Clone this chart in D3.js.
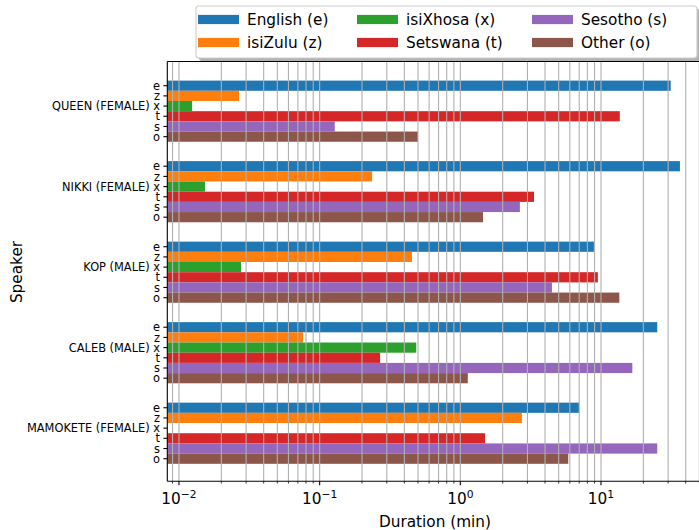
<!DOCTYPE html>
<html>
<head>
<meta charset="utf-8">
<script src="https://cdn.jsdelivr.net/npm/d3@7"></script>
<style>
  html, body { margin: 0; padding: 0; background: #fff; }
  svg { display: block; font-family: "DejaVu Sans", sans-serif; }
</style>
</head>
<body>
<div id="chart"></div>
<script>
// ---- Data ----
const speakers = ["QUEEN (FEMALE)", "NIKKI (FEMALE)", "KOP (MALE)", "CALEB (MALE)", "MAMOKETE (FEMALE)"];
const languages = ["English (e)", "isiZulu (z)", "isiXhosa (x)", "Setswana (t)", "Sesotho (s)", "Other (o)"];
const codes = ["e", "z", "x", "t", "s", "o"];
const colors = ["#1f77b4", "#ff7f0e", "#2ca02c", "#d62728", "#9467bd", "#8c564b"];
const english  = [31.3, 36.4, 8.9, 25.1, 7.0];
const isizulu  = [0.0267, 0.236, 0.453, 0.0762, 2.74];
const isixhosa = [0.0124, 0.0153, 0.0276, 0.486, 0];
const setswana = [13.6, 3.34, 9.5, 0.269, 1.50];
const sesotho  = [0.128, 2.65, 4.48, 16.7, 25.1];
const other    = [0.50, 1.45, 13.5, 1.13, 5.85];
const majorTicks = [0.01, 0.1, 1, 10];
const majorLabels = ["−2", "−1", "0", "1"];

const series = [english, isizulu, isixhosa, setswana, sesotho, other];

(function () {
// ---- Layout ----
const W = 699, H = 530;
const pLeft = 167.3, pTop = 61.5, pBottom = 481.3;
const groupStep = 7.9; // slots per speaker group

const svg = d3.select("#chart").append("svg").attr("width", W).attr("height", H);

const x = d3.scaleLog().domain([0.00826, 60]).range([pLeft, 179 + 140.67 * (Math.log10(60) + 2)]);
const y = d3.scaleLinear().domain([0, 4 * groupStep + 5]).range([85.7, 458.7]);
const slot = y(1) - y(0);

// rows
const rows = [];
speakers.forEach((sp, g) => {
  codes.forEach((c, i) => {
    rows.push({ sp, g, i, code: c, value: series[i][g], color: colors[i], pos: g * groupStep + i });
  });
});

// bars
svg.append("g").selectAll("rect").data(rows.filter(d => d.value > 0)).join("rect")
  .attr("x", pLeft)
  .attr("y", d => y(d.pos) - slot / 2)
  .attr("width", d => Math.min(W, x(d.value)) - pLeft)
  .attr("height", slot)
  .attr("fill", d => d.color);

// grid lines (drawn over bars)
const allTicks = x.ticks().filter(t => x(t) > pLeft + 0.5);
svg.append("g").selectAll("line").data(allTicks).join("line")
  .attr("x1", d => x(d)).attr("x2", d => x(d))
  .attr("y1", pTop).attr("y2", pBottom)
  .attr("stroke", "#b0b0b0").attr("stroke-width", 1.1);

// x tick marks
svg.append("g").selectAll("line").data(allTicks).join("line")
  .attr("x1", d => x(d)).attr("x2", d => x(d))
  .attr("y1", pBottom).attr("y2", d => pBottom + (majorTicks.includes(d) ? 3.9 : 2.2))
  .attr("stroke", "#000").attr("stroke-width", d => majorTicks.includes(d) ? 1.1 : 0.8);

// x tick labels
const xl = svg.append("g").selectAll("text").data(majorTicks).join("text")
  .attr("x", d => x(d)).attr("y", 504)
  .attr("text-anchor", "middle").attr("font-size", 15.3).attr("fill", "#000");
xl.append("tspan").text("10");
xl.append("tspan").attr("dy", -6).attr("font-size", 10.7).text((d, i) => majorLabels[i]);

// y tick marks and labels
svg.append("g").selectAll("line").data(rows).join("line")
  .attr("x1", pLeft - 3.9).attr("x2", pLeft)
  .attr("y1", d => y(d.pos)).attr("y2", d => y(d.pos))
  .attr("stroke", "#000").attr("stroke-width", 1.1);
svg.append("g").selectAll("text").data(rows).join("text")
  .attr("x", pLeft - 7.3).attr("y", d => y(d.pos)).attr("dy", "0.36em")
  .attr("text-anchor", "end").attr("font-size", 11.4).attr("fill", "#000")
  .text(d => d.code === "x" ? d.sp + " " + d.code : d.code);

// spines
svg.append("line").attr("x1", pLeft).attr("x2", pLeft).attr("y1", pTop).attr("y2", pBottom)
  .attr("stroke", "#000").attr("stroke-width", 1.1);
svg.append("line").attr("x1", pLeft).attr("x2", W).attr("y1", pTop).attr("y2", pTop)
  .attr("stroke", "#000").attr("stroke-width", 1.1);
svg.append("line").attr("x1", pLeft).attr("x2", W).attr("y1", pBottom).attr("y2", pBottom)
  .attr("stroke", "#000").attr("stroke-width", 1.1);

// axis labels
svg.append("text").attr("x", 435).attr("y", 527).attr("text-anchor", "middle")
  .attr("font-size", 15.3).text("Duration (min)");
svg.append("text").attr("transform", "translate(22,272) rotate(-90)").attr("text-anchor", "middle")
  .attr("font-size", 15.3).text("Speaker");

// legend
const lg = svg.append("g");
const lx = 196, ly = 6, lw = 501, lh = 52;
lg.append("rect").attr("x", lx + 3).attr("y", ly + 3).attr("width", lw).attr("height", lh)
  .attr("rx", 3).attr("fill", "#000").attr("opacity", 0.3);
lg.append("rect").attr("x", lx).attr("y", ly).attr("width", lw).attr("height", lh)
  .attr("rx", 3).attr("fill", "#fff").attr("stroke", "#cccccc").attr("stroke-width", 1.1);
const colX = [198, 357, 532];
languages.forEach((name, i) => {
  const col = Math.floor(i / 2), row = i % 2;
  const cy = 19.5 + row * 23;
  lg.append("rect").attr("x", colX[col]).attr("y", cy - 4.6).attr("width", 41).attr("height", 9.2)
    .attr("fill", colors[i]);
  lg.append("text").attr("x", colX[col] + 49).attr("y", cy).attr("dy", "0.36em")
    .attr("font-size", 15.3).text(name);
});
})();
</script>
</body>
</html>
